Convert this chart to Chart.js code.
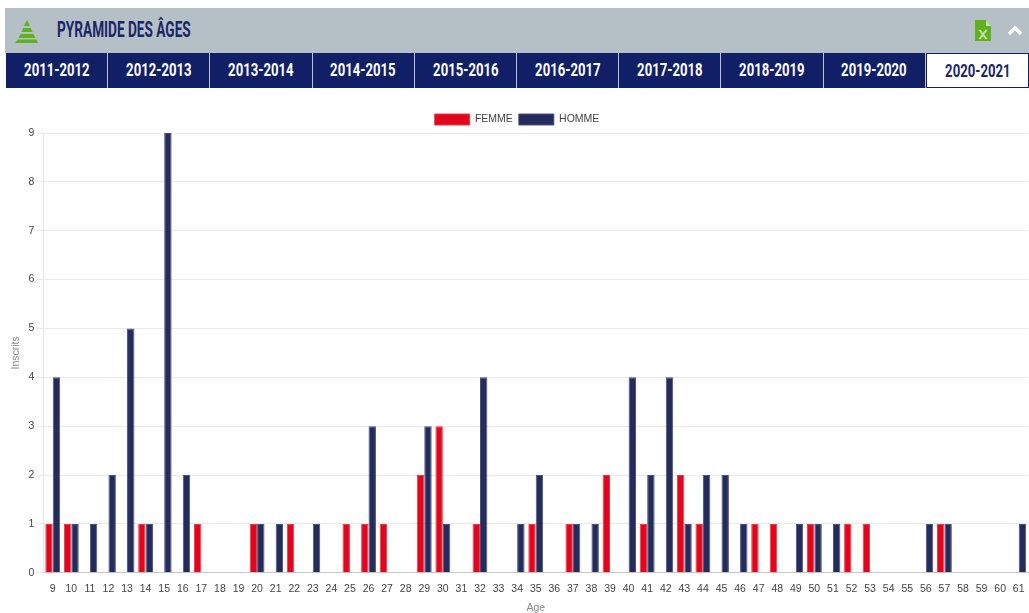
<!DOCTYPE html>
<html lang="fr">
<head>
<meta charset="utf-8">
<title>Pyramide des âges</title>
<script src="https://cdn.jsdelivr.net/npm/chart.js@4"></script>
<style>
  html, body { margin: 0; padding: 0; background: #fff; overflow: hidden; }
  body { width: 1029px; height: 613px; position: relative; font-family: "Liberation Sans", Arial, sans-serif; }
  .head { position: absolute; left: 5px; top: 8px; width: 1024px; height: 45px; background: #b5c0c6; }
  .head svg { position: absolute; }
  .title { position: absolute; left: 52px; top: 8px; font: 700 22px/28px Roboto, sans-serif; color: #1b2768;
           white-space: nowrap; transform-origin: left center; transform: scaleX(.62); }
  .tabs { position: absolute; left: 6px; top: 53px; width: 1023px; height: 35px; display: flex; }
  .tab { flex: 1; box-sizing: border-box; background: #111f66; color: #fff; border-right: 1px solid #b9c0d4;
         text-align: center; font: 700 18px/33px Roboto, sans-serif; }
  .tab span { display: inline-block; transform: scaleX(.73); }
  .tab.on { background: #fff; color: #1b2768; border: 1px solid #111f66; border-left-color: #111f66; }
  .plot { position: absolute; left: 0; top: 100px; width: 1029px; height: 518px; }
</style>
</head>
<body>
<div class="head">
  <svg style="left:9px;top:10px" width="26" height="26" viewBox="0 0 26 26">
    <polygon points="13,2 16,8 10,8" fill="#5fb21d"/>
    <polygon points="9.2,10 16.8,10 18.5,14 7.5,14" fill="#5fb21d"/>
    <polygon points="6.6,16 19.4,16 21.5,20 4.5,20" fill="#5fb21d"/>
    <polygon points="3.6,21.5 22.4,21.5 24,25 1,25" fill="#5fb21d"/>
  </svg>
  <div class="title">PYRAMIDE DES ÂGES</div>
  <svg style="left:970px;top:12px" width="17" height="22" viewBox="0 0 17 22">
    <polygon points="0,0 11,0 16,6 16,21 0,21" fill="#5fb21d"/>
    <polygon points="11,0 16,6 11,6" fill="#c6e2a8"/>
    <path d="M4.5 10 L11.5 19 M11.5 10 L4.5 19" stroke="#c6e2a8" stroke-width="2"/>
  </svg>
  <svg style="left:1002px;top:17px" width="16" height="11" viewBox="0 0 16 11">
    <path d="M2 9 L8 3 L14 9" fill="none" stroke="#fff" stroke-width="3.4"/>
  </svg>
</div>
<div class="tabs" id="tabs"></div>
<div class="plot"><canvas id="ageChart"></canvas></div>

<script>
const SAISONS = ['2011-2012','2012-2013','2013-2014','2014-2015','2015-2016','2016-2017','2017-2018','2018-2019','2019-2020','2020-2021'];

const AGES = [9,10,11,12,13,14,15,16,17,18,19,20,21,22,23,24,25,26,27,28,29,30,31,32,33,34,35,
              36,37,38,39,40,41,42,43,44,45,46,47,48,49,50,51,52,53,54,55,56,57,58,59,60,61];

const FEMME = [1,1,0,0,0,1,0,0,1,0,0,1,0,1,0,0,1,1,1,0,2,3,0,1,0,0,1,
               0,1,0,2,0,1,0,2,1,0,0,1,1,0,1,0,1,1,0,0,0,1,0,0,0,0];

const HOMME = [4,1,1,2,5,1,9,2,0,0,0,1,1,0,1,0,0,3,0,0,3,1,0,4,0,1,2,
               0,1,1,0,4,2,4,1,2,2,1,0,0,1,1,1,0,0,0,0,1,1,0,0,0,1];

document.getElementById('tabs').innerHTML = SAISONS.map((s, i) =>
  `<div class="tab${i === SAISONS.length - 1 ? ' on' : ''}"><span>${s}</span></div>`).join('');

const TICK_COLOR = '#444';
const AXIS_TITLE = '#8a8a8a';
const FONT = { size: 10.5, family: 'Liberation Sans' };

// the legend sits a bit lower than its padding would put it
const legendNudge = {
  id: 'legendNudge',
  afterLayout(chart) { chart.legend.top += 2; },
};

new Chart(document.getElementById('ageChart'), {
  type: 'bar',
  data: {
    labels: AGES,
    datasets: [
      { label: 'FEMME', data: FEMME, backgroundColor: '#e2061c', borderColor: '#e93a4c', borderWidth: 1 },
      { label: 'HOMME', data: HOMME, backgroundColor: '#242c5c', borderColor: '#4a5180', borderWidth: 1 },
    ],
  },
  plugins: [legendNudge],
  options: {
    responsive: true, maintainAspectRatio: false, animation: false,
    layout: { padding: { top: 6, right: 1, bottom: 0, left: 6 } },
    datasets: { bar: { categoryPercentage: 0.8, barPercentage: 1 } },
    plugins: {
      legend: {
        labels: { boxWidth: 35, boxHeight: 11, padding: 6, color: TICK_COLOR, font: FONT },
      },
      tooltip: { enabled: false },
    },
    scales: {
      x: {
        title: { display: true, text: 'Age', color: AXIS_TITLE, font: FONT },
        ticks: { color: TICK_COLOR, font: FONT, autoSkip: false, maxRotation: 0, padding: 2 },
        grid: { display: false },
        border: { color: '#c8c8c8' },
      },
      y: {
        min: 0, max: 9,
        title: { display: true, text: 'Inscrits', color: AXIS_TITLE, font: FONT },
        ticks: { stepSize: 1, color: TICK_COLOR, font: FONT, padding: 2 },
        grid: { color: '#ebebeb', tickLength: 7 },
        border: { color: '#e4e4e4' },
      },
    },
  },
});
</script>
</body>
</html>
